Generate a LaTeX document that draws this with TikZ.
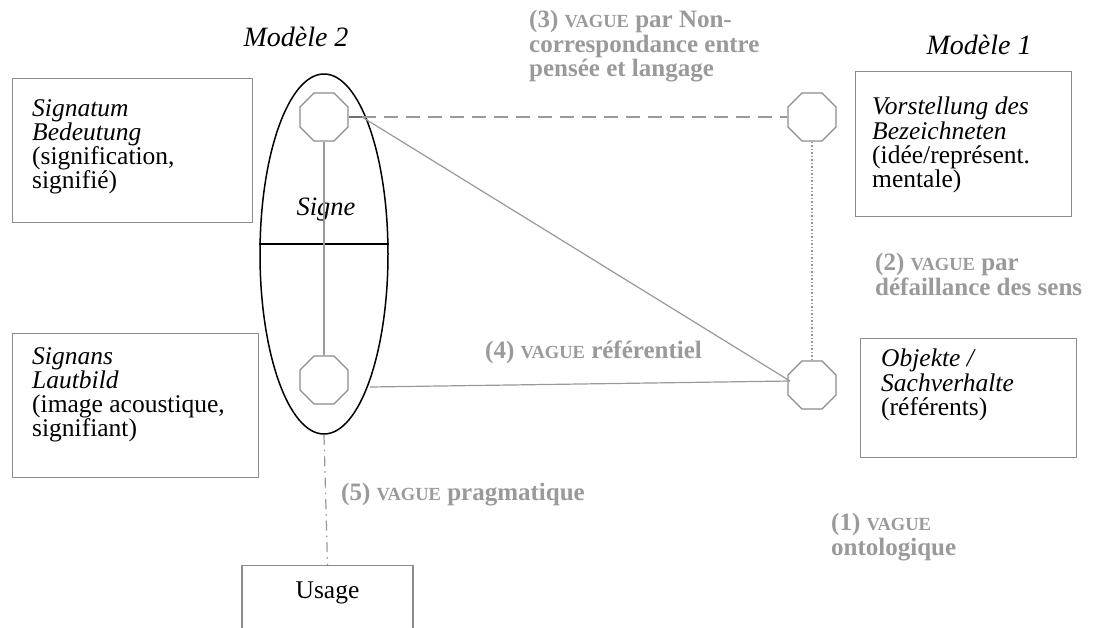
\documentclass[tikz,border=0pt]{standalone}
\usepackage{fontspec}
\setmainfont{Liberation Serif}
\usetikzlibrary{shapes.geometric}
\definecolor{lab}{HTML}{9A9A9A}
\definecolor{edge}{HTML}{8C8C8C}
\definecolor{ln}{HTML}{999999}
\newcommand{\vg}{{\fontsize{18.5}{20}\selectfont VAGUE}}
\begin{document}
\begin{tikzpicture}[x=1pt,y=-1pt,
  every node/.style={font=\fontsize{25.5}{24.3}\selectfont},
  frame/.style={draw=edge,line width=1.2pt,anchor=north west,inner sep=0pt},
  btext/.style={align=left,anchor=north west,inner sep=0pt},
  oct/.style={regular polygon,regular polygon sides=8,draw=edge,line width=1.2pt,minimum size=52pt,inner sep=0pt},
  glab/.style={text=lab,font=\fontsize{25}{24.5}\selectfont\bfseries,align=left,anchor=north west,inner sep=0pt},
  conn/.style={draw=ln,line width=1.2pt}]
\clip (0,0) rectangle (1101,627);
\fill[white] (0,0) rectangle (1101,627);
% titles
\node[font=\fontsize{28}{24}\selectfont\itshape] (m2) at (296,37) {Modèle 2};
\node[font=\fontsize{28}{24}\selectfont\itshape] (m1) at (979,45) {Modèle 1};
% boxes
\node[frame,minimum width=240pt,minimum height=144pt] (sig) at (12,78) {};
\node[btext] (sigt) at (32,99) {\textit{Signatum}\\\textit{Bedeutung}\\(signification,\\signifié)};
\node[frame,minimum width=246pt,minimum height=144pt] (sgs) at (12,333) {};
\node[btext] (sgst) at (32,347) {\textit{Signans}\\\textit{Lautbild}\\(image acoustique,\\signifiant)};
\node[frame,minimum width=216pt,minimum height=145pt] (vor) at (855,71) {};
\node[btext] (vort) at (872,97) {\textit{Vorstellung des}\\\textit{Bezeichneten}\\(idée/représent.\\mentale)};
\node[frame,minimum width=216pt,minimum height=119pt] (obj) at (860,338) {};
\node[btext] (objt) at (881,349) {\textit{Objekte /}\\\textit{Sachverhalte}\\(référents)};
\node[frame,minimum width=171pt,minimum height=90pt,anchor=north] (use) at (327.5,565) {};
\node (usage) at (327.5,593) {Usage};
% ellipse
\node[draw=black,line width=1.5pt,ellipse,minimum width=128pt,minimum height=360pt,inner sep=0pt] (ell) at (324,254) {};
\draw[black,line width=1.5pt] (ell.west |- 0,244) -- (ell.east |- 0,244);
\node[font=\fontsize{26.5}{24}\selectfont\itshape] (signe) at (326,210) {Signe};
% octagons
\node[oct] (o1) at (324,117) {};
\node[oct] (o2) at (324,380) {};
\node[oct] (o3) at (812,117) {};
\node[oct] (o4) at (812,385) {};
\coordinate (j) at (362,117);
\coordinate (p4) at (790,381);
% connectors
\draw[conn] (o1.south) -- (o2.north);
\draw[draw=edge!80!black,line width=1.8pt] (o1.east) -- (j);
\draw[conn,dash pattern=on 14pt off 8pt] (j) -- (o3.west);
\draw[conn] (j) -- (p4);
\coordinate (e4) at (370,387);
\draw[conn] (e4) -- (p4);
\draw[conn,line width=1.5pt,dotted] (o3.south) -- (o4.north);
\draw[conn,dash pattern=on 10pt off 5pt on 1.5pt off 5pt] (ell.south) -- (use.north);
% labels
\node[glab] (l3) at (529,10) {(3) \vg{} par Non-\\correspondance entre\\pensée et langage};
\node[glab] (l2) at (875,253) {(2) \vg{} par\\défaillance des sens};
\node[glab] (l4) at (485,341) {(4) \vg{} référentiel};
\node[glab] (l1) at (831,513) {(1) \vg\\ontologique};
\node[glab] (l5) at (341,483) {(5) \vg{} pragmatique};
\end{tikzpicture}
\end{document}
